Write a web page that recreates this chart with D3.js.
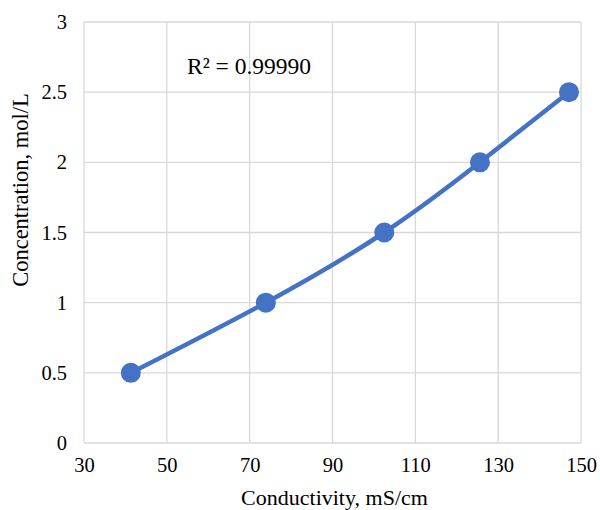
<!DOCTYPE html>
<html>
<head>
<meta charset="utf-8">
<script src="https://cdn.jsdelivr.net/npm/d3@7"></script>
<style>
  body { margin: 0; background: #fff; }
  svg { display: block; }
  text { font-family: "Liberation Serif", "Times New Roman", serif; fill: #000; }
</style>
</head>
<body>
<div id="chart"></div>
<script>
const conductivity = [41.3, 73.9, 102.5, 125.6, 147.1];
const concentration = [0.5, 1.0, 1.5, 2.0, 2.5];
const xTicks = [30, 50, 70, 90, 110, 130, 150];
const yTicks = [0, 0.5, 1, 1.5, 2, 2.5, 3];
const r2Label = "R\u00b2 = 0.99990";

function init() {
    var w = 600;
    var h = 510;
    var left = 84, right = 581, top = 22, bottom = 443;

    const svg = d3.select("#chart")
        .append("svg")
        .attr("width", w)
        .attr("height", h);

    const xScale = d3.scaleLinear()
        .domain([30, 150])
        .range([left, right]);

    const yScale = d3.scaleLinear()
        .domain([0, 3])
        .range([bottom, top]);

    // gridlines
    svg.append("g")
        .selectAll("line")
        .data(xTicks)
        .enter()
        .append("line")
        .attr("x1", d => xScale(d))
        .attr("x2", d => xScale(d))
        .attr("y1", top)
        .attr("y2", bottom)
        .attr("stroke", "#d9d9d9")
        .attr("stroke-width", 1.3);

    svg.append("g")
        .selectAll("line")
        .data(yTicks)
        .enter()
        .append("line")
        .attr("x1", left)
        .attr("x2", right)
        .attr("y1", d => yScale(d))
        .attr("y2", d => yScale(d))
        .attr("stroke", "#d9d9d9")
        .attr("stroke-width", 1.3);

    // axes, only labels shown
    const xAxis = d3.axisBottom(xScale).tickValues(xTicks).tickSize(0).tickPadding(14)
        .tickFormat(d3.format(""));
    const yAxis = d3.axisLeft(yScale).tickValues(yTicks).tickSize(0).tickPadding(17)
        .tickFormat(d3.format(""));

    const gx = svg.append("g")
        .attr("transform", `translate(0, ${bottom})`)
        .call(xAxis);
    const gy = svg.append("g")
        .attr("transform", `translate(${left}, 0)`)
        .call(yAxis);

    [gx, gy].forEach(g => {
        g.attr("font-family", null).attr("font-size", null);
        g.select(".domain").remove();
        g.selectAll("text")
            .style("font-family", "'Liberation Serif', serif")
            .style("font-size", "20.5px")
            .attr("fill", "#000");
    });

    // series
    const points = conductivity.map((c, i) => ({x: c, y: concentration[i]}));

    const line = d3.line()
        .x(d => xScale(d.x))
        .y(d => yScale(d.y))
        .curve(d3.curveNatural);

    svg.append("path")
        .datum(points)
        .attr("d", line)
        .attr("fill", "none")
        .attr("stroke", "#4472c4")
        .attr("stroke-width", 4.5);

    svg.selectAll("circle")
        .data(points)
        .enter()
        .append("circle")
        .attr("cx", d => xScale(d.x))
        .attr("cy", d => yScale(d.y))
        .attr("r", 10)
        .attr("fill", "#4472c4");

    // labels
    svg.append("text")
        .attr("x", 187)
        .attr("y", 74)
        .attr("font-size", 23.5)
        .text(r2Label);

    svg.append("text")
        .attr("transform", "translate(28, 190) rotate(-90)")
        .attr("text-anchor", "middle")
        .attr("font-size", 22.5)
        .text("Concentration, mol/L");

    svg.append("text")
        .attr("x", (left + right) / 2 + 2)
        .attr("y", 505)
        .attr("text-anchor", "middle")
        .attr("font-size", 22)
        .text("Conductivity, mS/cm");
}

window.onload = init;
</script>
</body>
</html>
